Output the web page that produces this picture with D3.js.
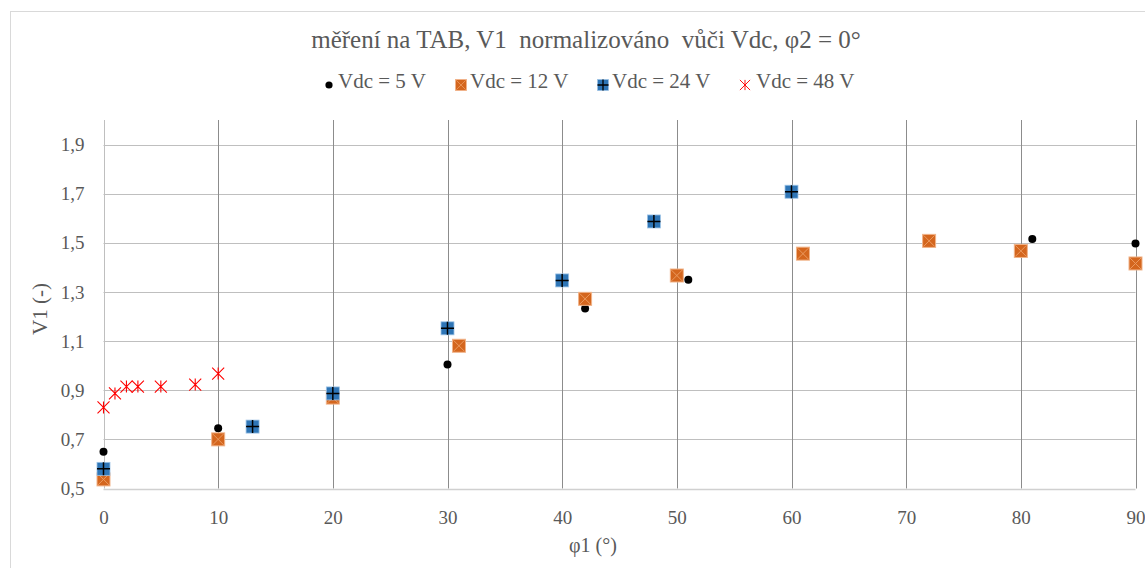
<!DOCTYPE html>
<html>
<head>
<meta charset="utf-8">
<script src="https://cdn.jsdelivr.net/npm/d3@7"></script>
<style>
  html, body { margin: 0; padding: 0; background: #fff; }
  svg { display: block; }
  text { font-family: "Liberation Serif", "Times New Roman", serif; white-space: pre; }
</style>
</head>
<body>
<svg id="chart" width="1145" height="568"></svg>
<script>
// ---- data ----
const titleText = "měření na TAB, V1  normalizováno  vůči Vdc, φ2 = 0°";
const xTitle = "φ1 (°)";
const yTitle = "V1 (-)";
const xTicks = [0, 10, 20, 30, 40, 50, 60, 70, 80, 90];
const yTicks = [0.5, 0.7, 0.9, 1.1, 1.3, 1.5, 1.7, 1.9];
const seriesNames = ["Vdc = 5 V", "Vdc = 12 V", "Vdc = 24 V", "Vdc = 48 V"];

const phi5  = [0, 10, 30, 42, 51, 61, 81, 90];
const v5    = [0.65, 0.745, 1.005, 1.233, 1.35, 1.448, 1.516, 1.497];
const phi12 = [0, 10, 20, 31, 42, 50, 61, 72, 80, 90];
const v12   = [0.537, 0.70, 0.87, 1.081, 1.272, 1.367, 1.456, 1.508, 1.467, 1.416];
const phi24 = [0, 13, 20, 30, 40, 48, 60];
const v24   = [0.58, 0.752, 0.887, 1.152, 1.347, 1.587, 1.708];
const phi48 = [0, 1, 2, 3, 5, 8, 10];
const v48   = [0.83, 0.887, 0.915, 0.915, 0.915, 0.923, 0.968];

// ---- layout ----
const svg = d3.select("#chart");
const W = 1145, H = 568;
const plot = { left: 103.5, right: 1135.5, top: 120, bottom: 488.5 };

const x = d3.scaleLinear().domain([0, 90]).range([plot.left, plot.right]);
const y = d3.scaleLinear().domain([0.5, 2.0]).range([plot.bottom, plot.top]);

// chart border
svg.append("rect").attr("x", 10.5).attr("y", 11.5).attr("width", W).attr("height", H)
  .attr("fill", "#fff").attr("stroke", "#d9d9d9").attr("stroke-width", 1);

// horizontal gridlines
svg.append("g").selectAll("line").data(yTicks.slice(1)).join("line")
  .attr("x1", plot.left).attr("x2", plot.right)
  .attr("y1", d => Math.round(y(d)) + 0.5).attr("y2", d => Math.round(y(d)) + 0.5)
  .attr("stroke", "#bfbfbf").attr("stroke-width", 1);

// vertical gridlines
svg.append("g").selectAll("line").data(xTicks).join("line")
  .attr("x1", d => Math.round(x(d)) + 0.5).attr("x2", d => Math.round(x(d)) + 0.5)
  .attr("y1", plot.top).attr("y2", plot.bottom)
  .attr("stroke", d => d === 0 ? "#bfbfbf" : "#8c8c8c").attr("stroke-width", 1);

// x axis line
svg.append("line").attr("x1", plot.left).attr("x2", plot.right)
  .attr("y1", Math.round(plot.bottom) + 0.5).attr("y2", Math.round(plot.bottom) + 0.5)
  .attr("stroke", "#d0d0d0").attr("stroke-width", 1.5);

// axes labels via d3 axes (lines hidden)
const xAxis = svg.append("g").attr("transform", `translate(0,${plot.bottom})`)
  .call(d3.axisBottom(x).tickValues(xTicks).tickSize(0).tickPadding(22).tickFormat(d3.format("d")));
xAxis.select(".domain").remove();
xAxis.selectAll("text").attr("font-size", 19).attr("fill", "#595959")
  .attr("font-family", "Liberation Serif");

const yAxis = svg.append("g").attr("transform", `translate(${plot.left},0)`)
  .call(d3.axisLeft(y).tickValues(yTicks).tickSize(0).tickPadding(19)
    .tickFormat(d => d3.format(".1f")(d).replace(".", ",")));
yAxis.select(".domain").remove();
yAxis.selectAll("text").attr("font-size", 19).attr("fill", "#595959")
  .attr("font-family", "Liberation Serif");

// titles
svg.append("text").attr("x", 586).attr("y", 48).attr("text-anchor", "middle")
  .attr("font-size", 25).attr("fill", "#595959").text(titleText);
svg.append("text").attr("x", 593).attr("y", 552).attr("text-anchor", "middle")
  .attr("font-size", 20).attr("fill", "#595959").text(xTitle);
svg.append("text").attr("transform", `translate(47,309) rotate(-90)`)
  .attr("text-anchor", "middle").attr("font-size", 21).attr("fill", "#595959").text(yTitle);

// ---- marker painters ----
function dot(g) {
  g.append("circle").attr("r", 4).attr("fill", "#000");
}
function orangeSq(g) {
  const s = 6.5;
  g.append("rect").attr("x", -s).attr("y", -s).attr("width", 2 * s).attr("height", 2 * s)
    .attr("fill", "#d4661e").attr("stroke", "#f1b48a").attr("stroke-width", 1);
  g.append("path").attr("d", `M${-s + 1},${-s + 1}L${s - 1},${s - 1}M${s - 1},${-s + 1}L${-s + 1},${s - 1}`)
    .attr("stroke", "#eb9a60").attr("stroke-width", 1).attr("fill", "none");
}
function blueSq(g) {
  const s = 6.5;
  g.append("rect").attr("x", -s).attr("y", -s).attr("width", 2 * s).attr("height", 2 * s)
    .attr("fill", "#2e75b6").attr("stroke", "#9dc3e6").attr("stroke-width", 0.8);
  g.append("path").attr("d", `M${-s},0L${s},0M0,${-s}L0,${s}`)
    .attr("stroke", "#000").attr("stroke-width", 1.5).attr("fill", "none");
}
function asterisk(g) {
  const s = 6;
  g.append("path").attr("d", `M${-s},${-s}L${s},${s}M${s},${-s}L${-s},${s}M0,${-s}L0,${s}`)
    .attr("stroke", "#ff0000").attr("stroke-width", 1.1).attr("fill", "none");
}

const series = [
  { xs: phi5, ys: v5, mk: dot },
  { xs: phi12, ys: v12, mk: orangeSq },
  { xs: phi24, ys: v24, mk: blueSq },
  { xs: phi48, ys: v48, mk: asterisk }
];

series.forEach(s => {
  const pts = s.xs.map((p, i) => [p, s.ys[i]]);
  svg.append("g").selectAll("g").data(pts).join("g")
    .attr("transform", d => `translate(${x(d[0])},${y(d[1])})`)
    .each(function () { s.mk(d3.select(this)); });
});

// ---- legend ----
const legendX = [329, 461, 603, 745];
const legendY = 82;
seriesNames.forEach((name, i) => {
  const g = svg.append("g").attr("transform", `translate(${legendX[i]},${legendY + 3})`);
  const mg = g.append("g").attr("transform", i === 0 ? "scale(0.9)" : "scale(0.85)");
  series[i].mk(mg);
  svg.append("text").attr("x", legendX[i] + (i === 3 ? 11 : 9)).attr("y", legendY + 6)
    .attr("font-size", 21).attr("fill", "#595959").text(name);
});
</script>
</body>
</html>
